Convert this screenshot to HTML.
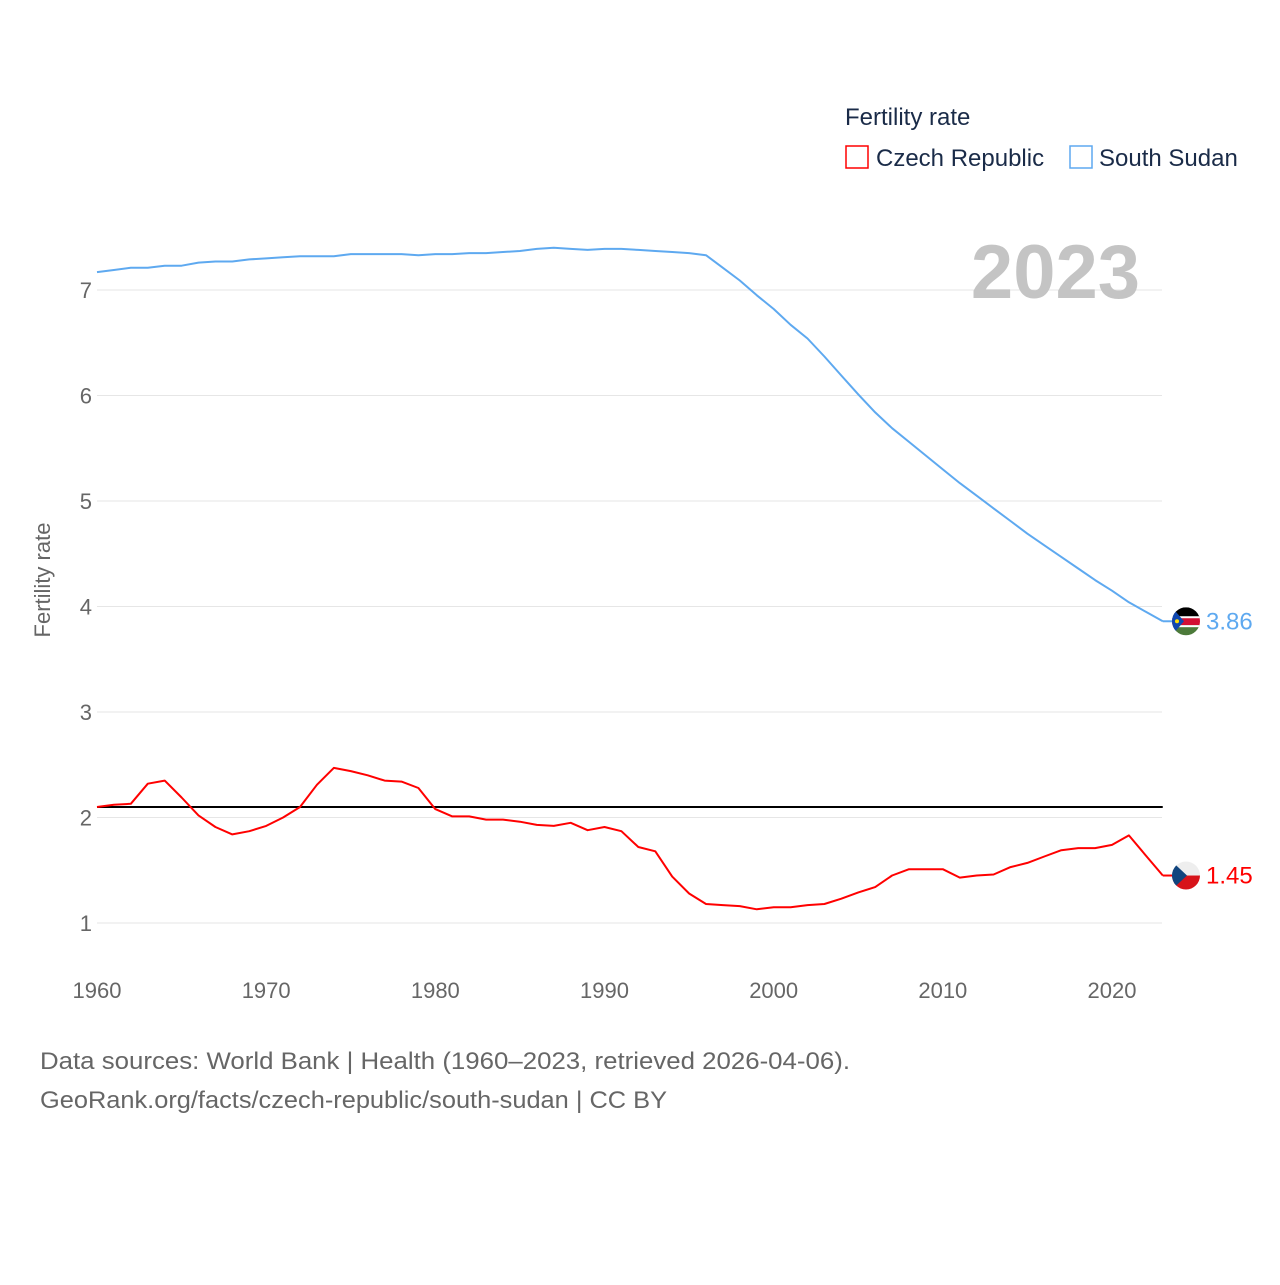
<!DOCTYPE html>
<html><head><meta charset="utf-8">
<style>
html,body{margin:0;padding:0;background:#fff;}
body{width:1280px;height:1280px;position:relative;font-family:"Liberation Sans",sans-serif;}
svg text{font-family:"Liberation Sans",sans-serif;}
</style></head>
<body>
<svg id="chart" width="1280" height="1280">
  <g id="grid"></g>
  <g id="yticks"></g>
  <g id="xticks"></g>
  <text x="50" y="580" font-size="22" fill="#666" text-anchor="middle" transform="rotate(-90 50 580)">Fertility rate</text>
  <text x="1140" y="298" font-size="76" font-weight="bold" fill="#c4c4c4" text-anchor="end">2023</text>
  <g>
    <text x="845" y="125" font-size="24" fill="#1a2b48">Fertility rate</text>
    <g>
      <rect x="846" y="146" width="22" height="22" fill="none" stroke="#ff0000" stroke-width="1.5"/>
      <text x="876" y="166" font-size="24" fill="#1a2b48">Czech Republic</text>
    </g>
    <g>
      <rect x="1070" y="146" width="22" height="22" fill="none" stroke="#5ea9f0" stroke-width="1.5"/>
      <text x="1099" y="166" font-size="24" fill="#1a2b48">South Sudan</text>
    </g>
  </g>
  <g id="series"></g>
  <g id="ends"></g>
  <text x="40" y="1069" font-size="24" fill="#666" textLength="810" lengthAdjust="spacingAndGlyphs">Data sources: World Bank | Health (1960–2023, retrieved 2026-04-06).</text>
  <text x="40" y="1108" font-size="24" fill="#666" textLength="627" lengthAdjust="spacingAndGlyphs">GeoRank.org/facts/czech-republic/south-sudan | CC BY</text>
</svg>
<script>
const years = [];
for (let y = 1960; y <= 2023; y++) years.push(y);
const southSudan = [7.17,7.19,7.21,7.21,7.23,7.23,7.26,7.27,7.27,7.29,7.30,7.31,7.32,7.32,7.32,7.34,7.34,7.34,7.34,7.33,7.34,7.34,7.35,7.35,7.36,7.37,7.39,7.40,7.39,7.38,7.39,7.39,7.38,7.37,7.36,7.35,7.33,7.21,7.09,6.95,6.82,6.67,6.54,6.37,6.19,6.01,5.84,5.69,5.56,5.43,5.30,5.17,5.05,4.93,4.81,4.69,4.58,4.47,4.36,4.25,4.15,4.04,3.95,3.86];
const czech = [2.10,2.12,2.13,2.32,2.35,2.19,2.02,1.91,1.84,1.87,1.92,2.00,2.10,2.31,2.47,2.44,2.40,2.35,2.34,2.28,2.08,2.01,2.01,1.98,1.98,1.96,1.93,1.92,1.95,1.88,1.91,1.87,1.72,1.68,1.44,1.28,1.18,1.17,1.16,1.13,1.15,1.15,1.17,1.18,1.23,1.29,1.34,1.45,1.51,1.51,1.51,1.43,1.45,1.46,1.53,1.57,1.63,1.69,1.71,1.71,1.74,1.83,1.64,1.45];
const yTicks = [1,2,3,4,5,6,7];
const xTicks = [1960,1970,1980,1990,2000,2010,2020];
const replacement = 2.1;

const NS = "http://www.w3.org/2000/svg";
const X = yr => 97 + (yr - 1960) * (1112 - 97) / 60;
const Y = v => 923 - (v - 1) * 105.5;
function mk(tag, attrs, parent) { const e = document.createElementNS(NS, tag); for (const k in attrs) e.setAttribute(k, attrs[k]); parent.appendChild(e); return e; }

const grid = document.getElementById('grid'), yt = document.getElementById('yticks'), xt = document.getElementById('xticks');
yTicks.forEach(t => {
  const l = mk('line', {x1: 97, x2: 1162, y1: Y(t), y2: Y(t), stroke: '#e6e6e6', 'stroke-width': 1}, grid);
  
  
  const tx = mk('text', {x: 92, y: Y(t) + 8, 'font-size': 22, fill: '#666', 'text-anchor': 'end'}, yt);
  tx.textContent = t;
  
  
});
xTicks.forEach(t => {
  const tx = mk('text', {x: X(t), y: 998, 'font-size': 22, fill: '#666', 'text-anchor': 'middle'}, xt);
  tx.textContent = t;
  
  
});

const ser = document.getElementById('series');
const ref = mk('line', {x1: X(1960), x2: X(2023), y1: Y(replacement), y2: Y(replacement), stroke: '#000', 'stroke-width': 2}, ser);


function path(vals, color, name) {
  const d = vals.map((v, i) => (i ? 'L' : 'M') + X(years[i]).toFixed(1) + ' ' + Y(v).toFixed(1)).join(' ');
  const p = mk('path', {d: d, fill: 'none', stroke: color, 'stroke-width': 2, 'stroke-linejoin': 'round'}, ser);
  
  
}
path(southSudan, '#5ea9f0', 'south-sudan-line');
path(czech, '#ff0000', 'czech-republic-line');

const ends = document.getElementById('ends');
function endMark(vals, color, name, flag) {
  const v = vals[vals.length - 1], x = X(2023), y = Y(v);
  mk('line', {x1: x, x2: x + 10, y1: y, y2: y, stroke: color, 'stroke-width': 2}, ends);
  const g = mk('g', {}, ends);
  
  
  const cx = 1186, r = 14;
  const cid = 'clip-' + name;
  const cp = mk('clipPath', {id: cid}, g); mk('circle', {cx: cx, cy: y, r: r}, cp);
  const inner = mk('g', {'clip-path': 'url(#' + cid + ')'}, g);
  flag(inner, cx, y, r);
  const t = mk('text', {x: 1206, y: y + 8, 'font-size': 24, fill: color}, ends);
  t.textContent = v.toFixed(2);
  
  
}
endMark(southSudan, '#5ea9f0', 'south-sudan', (g, cx, cy, r) => {
  mk('rect', {x: cx - r, y: cy - r, width: 2 * r, height: 2 * r * 0.36, fill: '#000'}, g);
  mk('rect', {x: cx - r, y: cy - r * 0.28, width: 2 * r, height: r * 0.56, fill: '#d21034'}, g);
  mk('rect', {x: cx - r, y: cy + r * 0.28, width: 2 * r, height: r, fill: '#4c7a3a'}, g);
  mk('rect', {x: cx - r, y: cy - r * 0.36, width: 2 * r, height: 2, fill: '#fff'}, g);
  mk('rect', {x: cx - r, y: cy + r * 0.28, width: 2 * r, height: 2, fill: '#fff'}, g);
  mk('polygon', {points: `${cx - r},${cy - r} ${cx - 2},${cy} ${cx - r},${cy + r}`, fill: '#0f47af'}, g);
  mk('circle', {cx: cx - r + 5, cy: cy, r: 2, fill: '#fcdd09'}, g);
});
endMark(czech, '#ff0000', 'czech-republic', (g, cx, cy, r) => {
  mk('rect', {x: cx - r, y: cy - r, width: 2 * r, height: r, fill: '#eee'}, g);
  mk('rect', {x: cx - r, y: cy, width: 2 * r, height: r, fill: '#d7141a'}, g);
  mk('polygon', {points: `${cx - r},${cy - r} ${cx + 1},${cy} ${cx - r},${cy + r}`, fill: '#11457e'}, g);
});
</script>
</body></html>
